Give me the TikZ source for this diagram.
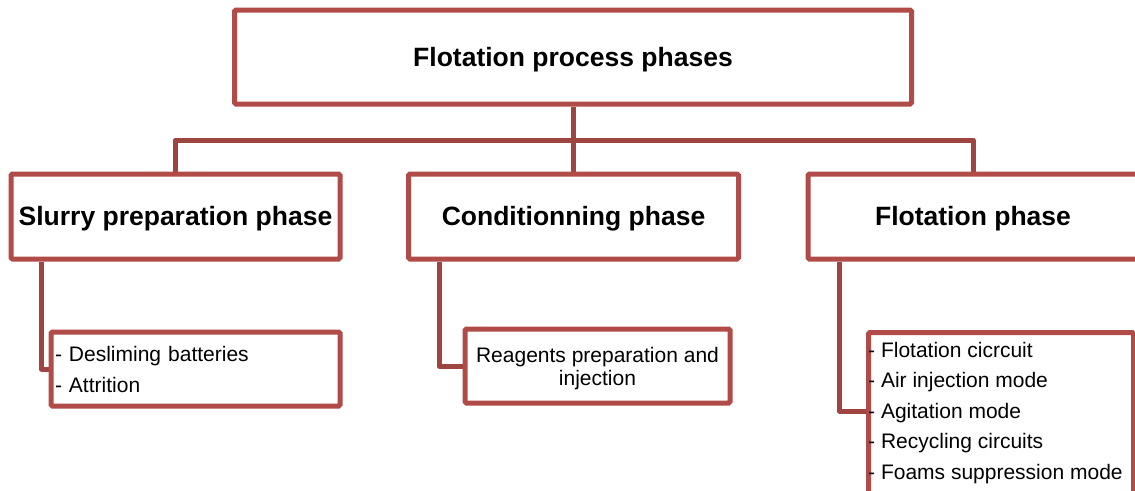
\documentclass[tikz,border=0pt]{standalone}
\usepackage{fontspec}
\setmainfont{Liberation Sans}
\usetikzlibrary{backgrounds}
\definecolor{boxred}{HTML}{B04B48}
\definecolor{linkred}{HTML}{9E4541}
\newcommand{\lowertext}[2]{\raisebox{-#1}[\height][\depth]{#2}}
\tikzset{
  phasebox/.style={draw=boxred, line width=5pt, fill=white, rounded corners=1.5pt,
    inner sep=0pt, font=\fontsize{26.5}{30}\selectfont\bfseries},
  subbox/.style={draw=boxred, line width=5pt, fill=white, rounded corners=1.5pt,
    inner sep=0pt},
  subtext/.style={inner sep=0pt, font=\fontsize{21}{30.5}\selectfont},
  link/.style={draw=linkred, line width=5pt, line join=round}
}
\begin{document}
\begin{tikzpicture}[x=1pt,y=-1pt]
\clip (0,0) rectangle (1135,490);
% level 0
\node[phasebox, minimum width=677pt, minimum height=94pt] (top) at (573,57) {\lowertext{2.5pt}{Flotation process phases}};
% level 1
\node[phasebox, minimum width=329pt, minimum height=85pt] (slurry) at (175.5,216.5) {\lowertext{2pt}{Slurry preparation phase}};
\node[phasebox, minimum width=330pt, minimum height=85pt] (cond) at (573.5,216.5) {\lowertext{2pt}{Conditionning phase}};
\node[phasebox, minimum width=330pt, minimum height=85pt] (flot) at (973,216.5) {\lowertext{2pt}{Flotation phase}};
% level 2
\node[subbox, minimum width=289pt, minimum height=74pt, text width=281pt, align=left,
  font=\fontsize{21}{31}\selectfont] (sub1) at (195.5,369) {- Desliming batteries\\- Attrition};
\node[subbox, minimum width=265pt, minimum height=74pt,
  font=\fontsize{21}{23}\selectfont] (sub2) at (597.5,366)
  {\lowertext{3pt}{\begin{tabular}{@{}c@{}}Reagents preparation and\\injection\end{tabular}}};
\node[subbox, minimum width=265pt, minimum height=200pt, anchor=north west] (sub3) at (866,330) {};
\node[subtext, align=left, anchor=north west] (sub3text) at (868,342)
  {- Flotation cicrcuit\\- Air injection mode\\- Agitation mode\\- Recycling circuits\\- Foams suppression mode};
\coordinate (hub) at (573,140);
\coordinate (flotin) at (866,411);
\begin{scope}[on background layer]
\fill[white] (0,0) rectangle (1135,490);
\draw[link] (top.south) -- (hub);
\draw[link] (slurry.north) |- (hub) -| (flot.north);
\draw[link] (hub) -- (hub |- cond.north);
\draw[link] ([xshift=33pt]slurry.south west) |- (sub1.west);
\draw[link] ([xshift=33pt]cond.south west) |- (sub2.west);
\draw[link] ([xshift=34pt]flot.south west) |- (flotin);
\end{scope}
\end{tikzpicture}
\end{document}
